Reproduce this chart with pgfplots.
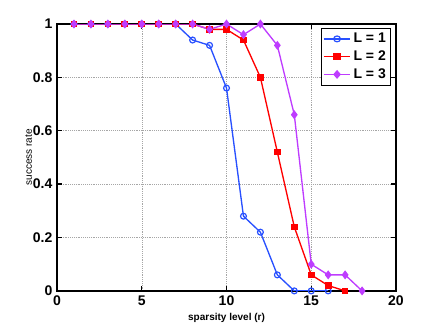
\documentclass[border=0pt]{standalone}
\usepackage{fontspec}
\setmainfont{Liberation Sans}
\usepackage{pgfplots}
\pgfplotsset{compat=1.18}
\usetikzlibrary{calc}
\definecolor{lblue}{RGB}{40,80,255}
\definecolor{lred}{RGB}{255,0,0}
\definecolor{lpurple}{RGB}{190,60,255}

\begin{document}
\begin{tikzpicture}
\begin{axis}[
  scale only axis,
  width=254pt,
  height=200pt,
  xmin=0, xmax=20,
  ymin=0, ymax=1,
  xtick={0,5,10,15,20},
  ytick={0,0.2,0.4,0.6,0.8,1},
  yticklabels={0,0.2,0.4,0.6,0.8,1},
  grid=major,
  grid style={gray!70, densely dotted, line width=0.4pt},
  axis line style={line width=1pt},
  major tick length=4pt,
  tick style={black, line width=1pt},
  tick align=inside,
  /pgf/number format/assume math mode=true,
  ticklabel style={font=\fontsize{10.5}{12}\selectfont\bfseries},
  xlabel={\bfseries sparsity level (r)},
  ylabel={success rate},
  label style={font=\fontsize{7.5}{9}\selectfont},
  xlabel style={yshift=1pt},
  ylabel style={at={(axis description cs:-0.084,0.5)}, anchor=center},
  legend style={at={(0.985,0.985)}, anchor=north east, draw=black,
    line width=0.6pt, font=\fontsize{10.5}{12}\selectfont\bfseries,
    inner sep=1.5pt, row sep=0.5pt},
  legend cell align=left,
  legend image post style={xscale=1.15},
  every axis plot/.append style={line width=1pt},
]
\path (rel axis cs:0,0) coordinate (sw) (rel axis cs:1,1) coordinate (ne);
\addplot[color=lblue, mark=o, mark size=2.2pt, mark options={solid, line width=0.9pt, fill=lblue!40}] coordinates {
  (1,1) (2,1) (3,1) (4,1) (5,1) (6,1) (7,1) (8,0.94) (9,0.92) (10,0.76)
  (11,0.28) (12,0.22) (13,0.06) (14,0) (15,0) (16,0)
};
\addlegendentry{L = 1}
\addplot[color=lred, mark=square*, mark size=2pt, mark options={solid}] coordinates {
  (1,1) (2,1) (3,1) (4,1) (5,1) (6,1) (7,1) (8,1) (9,0.98) (10,0.98)
  (11,0.94) (12,0.80) (13,0.52) (14,0.24) (15,0.06) (16,0.02) (17,0)
};
\addlegendentry{L = 2}
\addplot[color=lpurple, mark=diamond*, mark size=2.6pt, mark options={solid}] coordinates {
  (1,1) (2,1) (3,1) (4,1) (5,1) (6,1) (7,1) (8,1) (9,0.98) (10,1)
  (11,0.96) (12,1) (13,0.92) (14,0.66) (15,0.10) (16,0.06) (17,0.06) (18,0)
};
\addlegendentry{L = 3}
\end{axis}
\pgfresetboundingbox
\path[use as bounding box] ($(sw)+(-42.75pt,-27.75pt)$) rectangle ($(ne)+(30.75pt,18pt)$);
\end{tikzpicture}
\end{document}
